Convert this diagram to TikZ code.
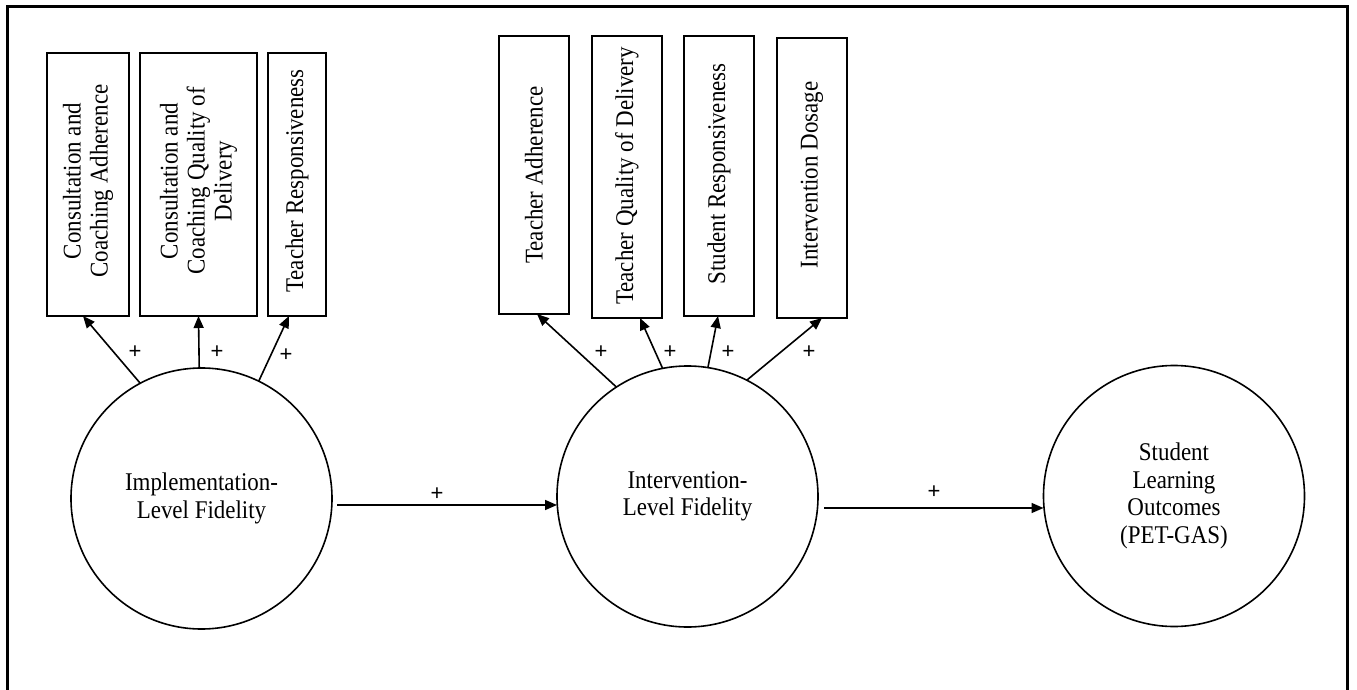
\documentclass[tikz,border=0pt]{standalone}
\usepackage{fontspec}
\setmainfont{Liberation Serif}[FakeStretch=0.9]
\newfontfamily\plusfont{Liberation Sans}
\usetikzlibrary{arrows.meta}
\begin{document}
\begin{tikzpicture}[x=1pt,y=-1pt,
  every node/.style={inner sep=0pt,outer sep=0pt},
  indicator/.style={draw,line width=1.7pt,fill=white},
  label90/.style={rotate=90,align=center,font=\fontsize{25.5}{27}\selectfont},
  latent/.style={draw,circle,line width=1.6pt,minimum size=261pt,align=center,
    font=\fontsize{25.5}{27.5}\selectfont},
  path/.style={line width=1.6pt,-{Triangle[length=12pt,width=10pt]}},
  sign/.style={font=\plusfont\fontsize{22}{22}\selectfont}]
\useasboundingbox (0,0) rectangle (1357,690);
\begin{scope}
\clip (0,0) rectangle (1357,690);
\draw[line width=3pt] (7,700) -- (7,7) -- (1347,7) -- (1347,700);
\end{scope}

% implementation-level indicators
\node[indicator,minimum width=82pt,minimum height=263pt] (b1) at (88,184.5) {};
\node[indicator,minimum width=117pt,minimum height=263pt] (b2) at (198.5,184.5) {};
\node[indicator,minimum width=58pt,minimum height=263pt] (b3) at (297,184.5) {};
\node[label90] (t1) at (88,181) {Consultation and\\Coaching Adherence};
\node[label90] (t2) at (198.5,181) {Consultation and\\Coaching Quality of\\Delivery};
\node[label90] (t3) at (297,181) {Teacher Responsiveness};

% intervention-level indicators
\node[indicator,minimum width=70pt,minimum height=278pt] (b4) at (534,175) {};
\node[indicator,minimum width=70pt,minimum height=282pt] (b5) at (627,177) {};
\node[indicator,minimum width=70pt,minimum height=280pt] (b6) at (719,176) {};
\node[indicator,minimum width=70pt,minimum height=280pt] (b7) at (812,178) {};
\node[label90] (t4) at (534,175) {Teacher Adherence};
\node[label90] (t5) at (627,176) {Teacher Quality of Delivery};
\node[label90] (t6) at (719,174) {Student Responsiveness};
\node[label90] (t7) at (812,175) {Intervention Dosage};

% latent constructs
\node[latent] (c1) at (201.5,498.5) {Implementation-\\Level Fidelity};
\node[latent] (c2) at (687.5,496.5) {Intervention-\\Level Fidelity};
\node[latent] (c3) at (1174,496) {Student\\Learning\\Outcomes\\(PET-GAS)};

% loadings
\draw[path] (c1.118.5) -- ([xshift=-5pt]b1.south);
\draw[path] (c1.91) -- (b2.south);
\draw[path] (c1.64.5) -- ([xshift=-8pt]b3.south);
\draw[path] (c2.123) -- ([xshift=3pt]b4.south);
\draw[path] (c2.101) -- ([xshift=13pt]b5.south);
\draw[path] (c2.81) -- ([xshift=-1pt]b6.south);
\draw[path] (c2.63.5) -- ([xshift=10pt]b7.south);

\node[sign] (p1) at (135,352) {+};
\node[sign] (p2) at (217,352) {+};
\node[sign] (p3) at (286,355) {+};
\node[sign] (p4) at (601,352) {+};
\node[sign] (p5) at (670,352) {+};
\node[sign] (p6) at (728,352) {+};
\node[sign] (p7) at (809,352) {+};

% structural paths
\coordinate (s1) at (337,505);
\coordinate (s2) at (824,508);
\draw[path] (s1) -- (s1 -| c2.west);
\draw[path] (s2) -- (s2 -| c3.west);
\node[sign] (p8) at (437,494) {+};
\node[sign] (p9) at (934,492) {+};
\end{tikzpicture}
\end{document}
